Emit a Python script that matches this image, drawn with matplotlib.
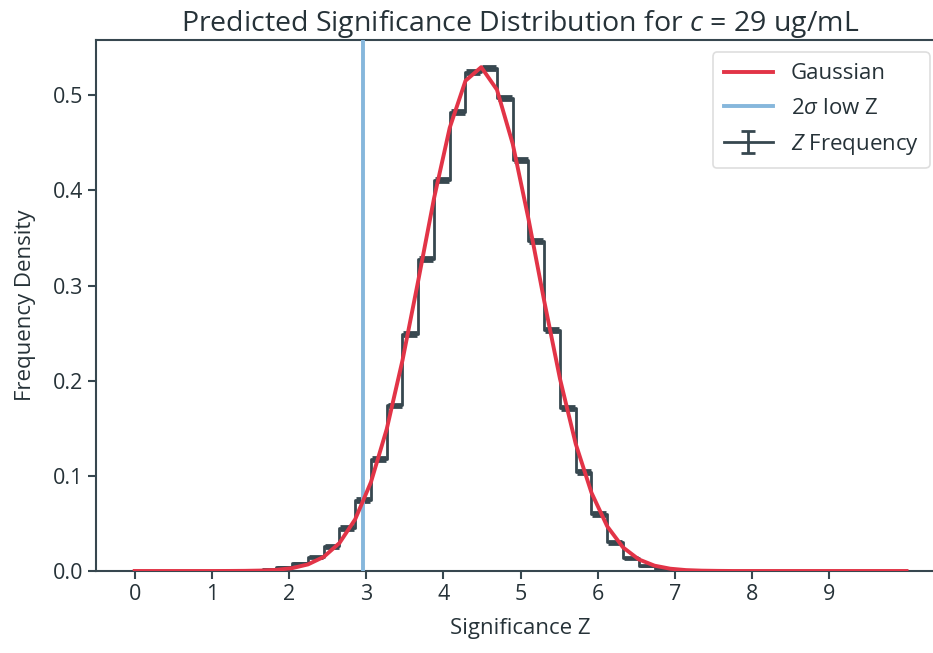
import numpy as np
import matplotlib.pyplot as plt

plt.rcParams['font.family'] = ['Open Sans', 'DejaVu Sans']
plt.rcParams['mathtext.fontset'] = 'custom'
plt.rcParams['mathtext.rm'] = 'Open Sans'
plt.rcParams['mathtext.it'] = 'Open Sans:italic'

# bin edges of the significance histogram (50 edges, 49 bins)
edges = np.linspace(0, 10, 50)
centers = 0.5 * (edges[:-1] + edges[1:])

# frequency density per bin
density = [0.0, 0.0, 0.0, 0.0, 0.0, 0.0, 0.0002, 0.0005, 0.0015, 0.004,
           0.008, 0.0144, 0.026, 0.045, 0.075, 0.118, 0.174, 0.249, 0.328, 0.411,
           0.482, 0.524, 0.529, 0.497, 0.432, 0.347, 0.253, 0.171, 0.104, 0.060,
           0.030, 0.0133, 0.0056, 0.002, 0.0007, 0.0002, 0.0, 0.0, 0.0, 0.0,
           0.0, 0.0, 0.0, 0.0, 0.0, 0.0, 0.0, 0.0, 0.0]
density_err = [0.0, 0.0, 0.0, 0.0, 0.0, 0.0, 0.0002, 0.0003, 0.0005, 0.0007,
               0.0009, 0.0012, 0.0015, 0.0018, 0.002, 0.002, 0.002, 0.002, 0.002, 0.002,
               0.002, 0.002, 0.002, 0.002, 0.002, 0.002, 0.002, 0.002, 0.002, 0.0018,
               0.0015, 0.0012, 0.0008, 0.0005, 0.0003, 0.0002, 0.0, 0.0, 0.0, 0.0,
               0.0, 0.0, 0.0, 0.0, 0.0, 0.0, 0.0, 0.0, 0.0]

# gaussian fit evaluated at the bin edges
gauss = [0.0, 0.0, 0.0, 0.0, 0.0, 0.0, 0.00005, 0.00016, 0.00045, 0.0012,
         0.0030, 0.0069, 0.0148, 0.0294, 0.0544, 0.0934, 0.1491, 0.2213, 0.3051, 0.3914,
         0.4658, 0.5152, 0.5295, 0.5057, 0.4488, 0.3699, 0.2836, 0.2019, 0.1335, 0.0822,
         0.0469, 0.0248, 0.0122, 0.0056, 0.0024, 0.00094, 0.00035, 0.00012, 0.0, 0.0,
         0.0, 0.0, 0.0, 0.0, 0.0, 0.0, 0.0, 0.0, 0.0, 0.0]

low_z = 2.96

dark = '#37474f'
text_c = '#263238'
red = '#e23447'
blue = '#86b7dc'

fig = plt.figure(figsize=(9.33, 6.53), dpi=100)
ax = fig.add_axes([0.103, 0.1256, 0.91, 0.8131])

ax.plot(edges, gauss, color=red, lw=2.8, label='Gaussian', zorder=4)
ax.axvline(low_z, color=blue, lw=2.8, label=r'2$\sigma$ low Z', zorder=3)
ax.errorbar(centers, density, yerr=density_err, drawstyle='steps-mid',
            color=dark, lw=2, capsize=5, capthick=2, elinewidth=2,
            label=r'$Z$ Frequency', zorder=2)

ax.set_xlim(-0.5, 10.5)
ax.set_ylim(0, 0.558)
ax.set_xticks(range(10))
ax.set_yticks([0.0, 0.1, 0.2, 0.3, 0.4, 0.5])
ax.set_yticklabels(['0.0', '0.1', '0.2', '0.3', '0.4', '0.5'])

for s in ax.spines.values():
    s.set_color(dark)
    s.set_linewidth(1.5)
ax.spines['right'].set_visible(False)
ax.tick_params(colors=dark, labelcolor=text_c, labelsize=15.5, length=6, width=1.5)

ax.set_xlabel('Significance Z', fontsize=16, color=text_c, labelpad=9)
ax.set_ylabel('Frequency Density', fontsize=16, color=text_c, labelpad=12)
ax.set_title(r'Predicted Significance Distribution for $c$ = 29 ug/mL',
             fontsize=20.5, color=text_c, pad=6)

leg = ax.legend(loc='upper right', bbox_to_anchor=(0.982, 0.977), borderaxespad=0,
                fontsize=16, frameon=True, fancybox=True, labelcolor=text_c,
                handlelength=2.2, borderpad=0.5, labelspacing=0.6)
leg.get_frame().set_edgecolor('#d6d6d6')
leg.get_frame().set_linewidth(1.2)

fig.savefig('out.png', dpi=100)
